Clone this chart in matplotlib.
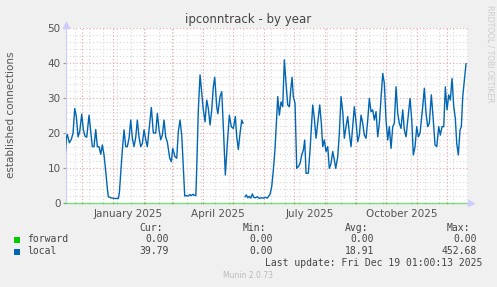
import numpy as np
import pandas as pd
import matplotlib
matplotlib.use("Agg")
import matplotlib.pyplot as plt
import matplotlib.transforms as mtransforms

# days since 2024-11-14
start = pd.Timestamp("2024-11-14")
local_days = [
    0, 1, 2, 4, 6, 7.7, 9.4, 11, 12.7, 14.4, 16.4, 18, 19.7, 21.4, 23.7, 25.4,
    27, 28.7, 30.4, 32, 33.7, 35.4, 37, 38.7, 40.4, 42, 43, 45.4, 49, 53, 54,
    55.4, 57, 58.7, 60.4, 62, 63.7, 65.4, 67, 68.7, 70.4, 72, 73.7, 75.4, 77,
    78.7, 80.4, 82, 83.7, 86, 88, 90.4, 92, 93.7, 95.4, 97, 98.7, 100.4, 102,
    104.4, 106, 107.4, 109.7, 111.4, 113, 114.7, 116.4, 118, 119.4, 121, 123,
    124.5, 126, 127.5, 129, 130.5, 131.4, 133, 134.7, 136.4, 138, 139.7, 141.4,
    143, 144.7, 146.4, 148, 149.4, 151.4, 152.5, 154.7, 156.4, 158, 160, 162,
    164, 166, 168, 170, 171.4, 173, 174.7, 176.4, 177.7, 178.7, 179.7, 181,
    182.5, 184, 185.5, 187, 188.5, 190, 192, 194, 196, 198, 200, 202, 203.5,
    204.7, 206.4, 208, 209.7, 211.4, 212.4, 214, 215.7, 217.4, 219, 220.7,
    222.4, 224, 225.4, 226.7, 228, 229.7, 231.4, 233, 234.7, 236.4, 238, 239.4,
    240.7, 243, 244.7, 246.4, 247.4, 249, 250.7, 252.4, 254.4, 256, 257.4, 259,
    260.7, 262.4, 264, 265.7, 267.4, 269, 270.4, 272.4, 274, 275.7, 277.4, 279,
    280.7, 282.4, 284, 285.7, 287.4, 289, 290.7, 292.4, 294, 295.7, 297.4, 299,
    300.7, 302.4, 304, 305.7, 307.4, 309, 310.7, 312.4, 314, 317.4, 319, 320.7,
    322.4, 324, 325.7, 327.4, 329, 330.7, 332.4, 334, 335.7, 337.4, 339, 340.7,
    342.4, 344.7, 346.4, 348, 349.7, 351.4, 353, 354.7, 357.4, 359, 360.7,
    362.4, 364, 366, 367.7, 369.7, 371.4, 373.4, 375, 376.7, 378.4, 380, 381.7,
    383.4, 385, 386.7, 388.4, 390, 391.4, 393, 394.7, 396, 397.4, 399, 400.7,
]
local_values = [
    14.3, 18.5, 19.6, 17.2, 18.2, 19.9, 27.0, 24.7, 18.9, 20.4, 25.4, 20.9,
    19.1, 18.8, 25.1, 20.4, 16.1, 16.1, 21.0, 16.1, 16.1, 13.9, 16.6, 13.7,
    9.0, 4.2, 1.8, 1.5, 1.3, 1.3, 2.8, 8.5, 15.1, 20.9, 16.1, 16.1, 18.5, 23.7,
    18.5, 16.1, 18.8, 23.7, 18.8, 16.1, 17.0, 20.9, 18.1, 16.1, 20.9, 27.3,
    20.0, 20.0, 25.6, 20.9, 18.1, 19.4, 23.7, 18.8, 17.4, 12.8, 11.8, 15.6,
    13.2, 12.8, 20.4, 23.7, 19.4, 10.4, 2.0, 2.1, 2.0, 2.4, 2.1, 2.5, 2.2,
    2.1, 10.0, 26.6, 36.6, 31.3, 26.6, 23.2, 29.4, 27.0, 22.3, 26.6, 33.2,
    35.9, 27.5, 25.5, 30.4, 31.8, 21.8, 8.0, 17.0, 25.1, 21.8, 21.3, 24.7,
    18.9, 15.3, 19.9, 23.7, 22.8, np.nan, 1.8, 2.3, 1.5, 1.9, 1.4, 2.6, 1.6,
    1.5, 1.8, 1.3, 1.5, 1.4, 1.6, 1.4, 2.0, 2.5, 4.7, 9.4, 15.5, 25.0, 30.4,
    25.1, 28.9, 27.5, 40.9, 34.2, 28.0, 27.5, 32.3, 35.9, 30.4, 28.5, 9.9,
    10.4, 11.3, 13.7, 15.1, 18.0, 8.5, 8.5, 15.1, 23.2, 28.0, 24.2, 18.5,
    22.8, 28.0, 22.8, 16.1, 18.0, 14.7, 16.1, 9.9, 11.3, 14.7, 12.3, 9.9,
    13.2, 19.9, 30.4, 26.1, 18.5, 21.8, 24.7, 19.9, 16.1, 21.8, 27.5, 23.2,
    17.5, 19.4, 25.1, 22.8, 19.4, 18.5, 23.7, 29.9, 26.1, 26.6, 23.7, 26.1,
    18.9, 22.8, 37.0, 34.2, 23.7, 18.0, 21.8, 15.6, 21.8, 22.8, 33.2, 25.6,
    22.8, 21.3, 26.6, 20.9, 18.9, 23.7, 29.9, 23.7, 13.7, 16.1, 21.8, 18.9,
    20.0, 27.5, 32.8, 25.6, 21.8, 22.8, 30.9, 24.7, 16.6, 16.1, 21.8, 19.4,
    21.8, 21.8, 33.2, 26.6, 30.9, 29.4, 35.6, 27.5, 24.2, 17.0, 13.7, 20.9,
    21.8, 30.4, 35.1, 39.8,
]
forward_days = [0, 400.7]
forward_values = [0.0, 0.0]

stat_headers = ["Cur:", "Min:", "Avg:", "Max:"]
forward_stats = ["0.00", "0.00", "0.00", "0.00"]
local_stats = ["39.79", "0.00", "18.91", "452.68"]
month_labels = ["January 2025", "April 2025", "July 2025", "October 2025"]
month_label_dates = ["2025-01-16", "2025-04-16", "2025-07-16", "2025-10-16"]


def to_dates(days):
    return start + pd.to_timedelta(np.array(days, dtype=float), unit="D")


W, H = 497, 287
fig = plt.figure(figsize=(W / 100, H / 100), dpi=100, facecolor="#f0f0f0")
ax = fig.add_axes([66 / W, 1 - 203 / H, (468 - 66) / W, (203 - 28) / H])
ax.set_facecolor("white")

ax.set_xlim(pd.Timestamp("2024-11-14 16:00"), pd.Timestamp("2025-12-21 16:00"))
ax.set_ylim(0, 50)

# grid: months in red, fortnights in gray
months = pd.date_range("2024-12-01", "2025-12-01", freq="MS")
fortnights = pd.date_range("2024-11-24", "2025-12-21", freq="14D")
for d in fortnights:
    ax.axvline(d, color="#d8d8d8", lw=0.8, ls=(0, (1, 2)), zorder=1)
for v in np.arange(2, 50, 2):
    if v % 10:
        ax.axhline(v, color="#d8d8d8", lw=0.8, ls=(0, (1, 2)), zorder=1)
for d in months:
    ax.axvline(d, color="#f0a0a0", lw=0.8, ls=(0, (1, 2)), zorder=1)
for v in range(10, 51, 10):
    ax.axhline(v, color="#f0a0a0", lw=0.8, ls=(0, (1, 2)), zorder=1)

ax.set_xticks(months)
ax.set_xticklabels([])
ax.tick_params(axis="x", length=2, color="#f0a0a0", direction="inout")
ax.set_xticks(fortnights, minor=True)
ax.tick_params(axis="x", which="minor", length=2, color="#cccccc", direction="inout")
ax.set_yticks(range(0, 51, 10))
ax.tick_params(axis="y", length=2, color="#999999", labelsize=7.5,
               labelcolor="#555555", pad=2)

trans = mtransforms.blended_transform_factory(ax.transData, ax.transAxes)
for lab, d in zip(month_labels, month_label_dates):
    ax.text(pd.Timestamp(d), -0.035, lab, transform=trans, ha="center",
            va="top", fontsize=7.5, color="#555555")

for s in ["top", "right", "bottom"]:
    ax.spines[s].set_visible(False)
ax.spines["left"].set_color("#ccccff")

ax.plot(to_dates(forward_days), forward_values, color="#00cc00", lw=1.0,
        alpha=0.5, zorder=3, clip_on=False)
ax.plot(to_dates(local_days), local_values, color="#0066b3", lw=1.0, zorder=4)

# axis arrows
ax.plot([0], [1.02], marker="^", ms=4, color="#ccccff", transform=ax.transAxes,
        clip_on=False)
ax.plot([1.008], [0], marker=">", ms=4, color="#ccccff", transform=ax.transAxes,
        clip_on=False)

fig.text(0.5, 1 - 19 / H, "ipconntrack - by year", ha="center", va="center",
         fontsize=8.5, color="#444444")
fig.text(11 / W, 1 - 115 / H, "established connections", rotation=90,
         ha="center", va="center", fontsize=7.5, color="#555555")
fig.text(490 / W, 1 - 5 / H, "RRDTOOL / TOBI OETIKER", rotation=270,
         ha="center", va="top", fontsize=5.5, color="#cccccc")

# legend block
mono = "DejaVu Sans Mono"
fs = 7
header_right = [163, 266, 368, 470]
value_right = [169, 273, 374, 477]
for txt, x in zip(stat_headers, header_right):
    fig.text(x / W, 1 - 228 / H, txt, ha="right", va="center", family=mono,
             fontsize=fs, color="#444444")
rows = [("forward", "#00cc00", forward_stats, 239.5),
        ("local", "#0066b3", local_stats, 251.5)]
for name, col, stats, y in rows:
    fig.patches.append(plt.Rectangle((14 / W, 1 - (y + 3) / H), 6 / W, 6 / H,
                                     transform=fig.transFigure,
                                     facecolor=col, edgecolor="none"))
    fig.text(27 / W, 1 - y / H, name, ha="left", va="center", family=mono,
             fontsize=fs, color="#444444")
    for txt, x in zip(stats, value_right):
        fig.text(x / W, 1 - y / H, txt, ha="right", va="center", family=mono,
                 fontsize=fs, color="#444444")
fig.text(482 / W, 1 - 263.5 / H, "Last update: Fri Dec 19 01:00:13 2025",
         ha="right", va="center", family=mono, fontsize=fs, color="#444444")
fig.text(248 / W, 1 - 276 / H, "Munin 2.0.73", ha="center", va="center",
         fontsize=5.5, color="#bbbbbb")

fig.savefig("out.png", dpi=100, facecolor=fig.get_facecolor())
